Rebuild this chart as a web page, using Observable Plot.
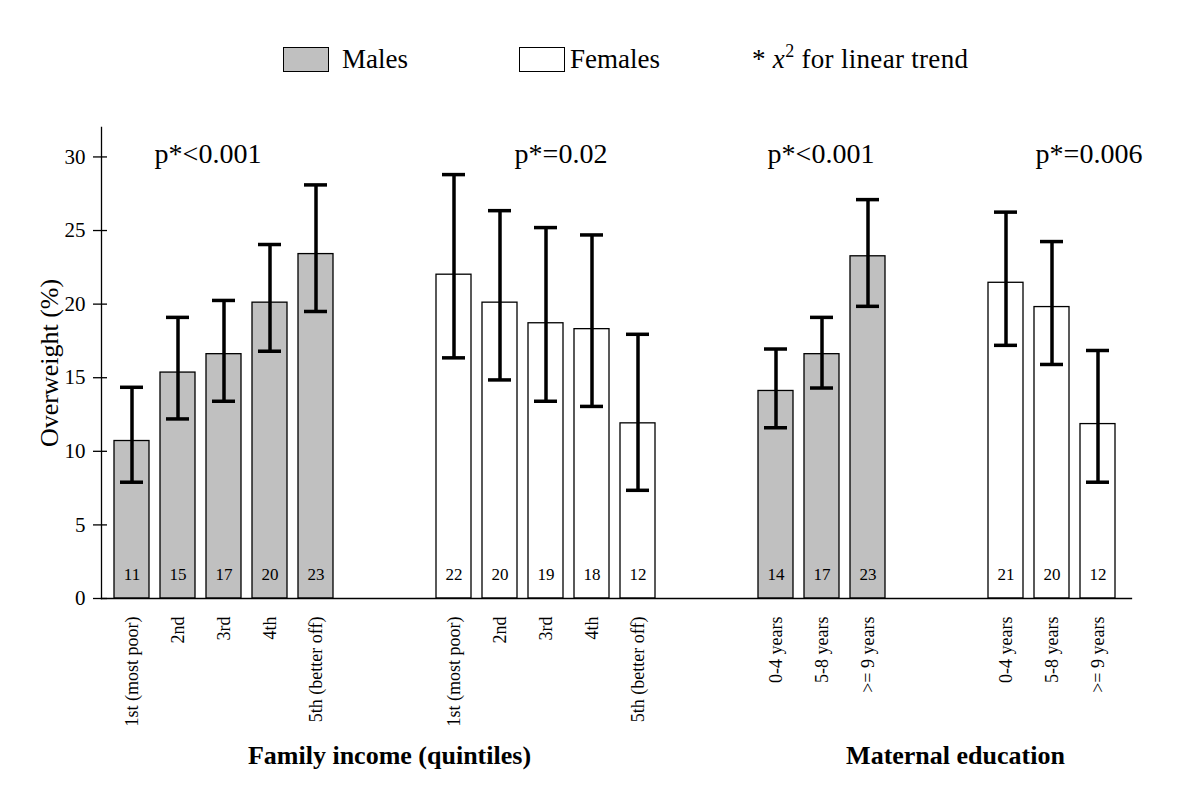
<!DOCTYPE html>
<html><head><meta charset="utf-8">
<script src="https://cdn.jsdelivr.net/npm/d3@7"></script>
<script src="https://cdn.jsdelivr.net/npm/@observablehq/plot@0.6"></script>
<style>
body{margin:0;background:#fff;font-family:"Liberation Serif","Times New Roman",serif;color:#000;}
#legend{position:relative;height:100px;width:1200px;}
.sw{position:absolute;top:47px;width:44px;height:23px;border:1.5px solid #000;}
.lt{position:absolute;top:42px;font-size:27px;line-height:34px;height:34px;white-space:nowrap;}
.lt sup{font-size:18px;position:relative;top:-11px;vertical-align:baseline;line-height:0;}
</style></head><body>
<div id="legend">
 <div class="sw" style="left:283px;background:#c0c0c0"></div>
 <div class="lt" style="left:342px">Males</div>
 <div class="sw" style="left:519px;background:#fff"></div>
 <div class="lt" style="left:570px">Females</div>
 <div class="lt" style="left:752px;letter-spacing:0.3px">* <i>x</i><sup>2</sup> for linear trend</div>
</div>
<div id="chart"></div>
<script>
// ---- data ----
const incomeLabels = ["1st (most poor)", "2nd", "3rd", "4th", "5th (better off)"];
const eduLabels = ["0-4 years", "5-8 years", ">= 9 years"];

const maleIncome   = [10.7, 15.35, 16.6, 20.1, 23.4];
const maleIncomeLo = [7.9, 12.2, 13.4, 16.8, 19.5];
const maleIncomeHi = [14.35, 19.1, 20.25, 24.05, 28.1];
const maleIncomeN  = [11, 15, 17, 20, 23];

const femaleIncome   = [22.0, 20.1, 18.7, 18.3, 11.9];
const femaleIncomeLo = [16.35, 14.85, 13.4, 13.05, 7.35];
const femaleIncomeHi = [28.8, 26.35, 25.2, 24.7, 17.95];
const femaleIncomeN  = [22, 20, 19, 18, 12];

const maleEdu   = [14.1, 16.6, 23.25];
const maleEduLo = [11.6, 14.3, 19.85];
const maleEduHi = [16.95, 19.1, 27.1];
const maleEduN  = [14, 17, 23];

const femaleEdu   = [21.45, 19.8, 11.85];
const femaleEduLo = [17.2, 15.9, 7.9];
const femaleEduHi = [26.25, 24.25, 16.85];
const femaleEduN  = [21, 20, 12];

const pLabels = ["p*<0.001", "p*=0.02", "p*<0.001", "p*=0.006"];
const yTicks = [0, 5, 10, 15, 20, 25, 30];

// ---- table ----
const rows = [];
const labelOf = {};
function addGroup(prefix, sex, labels, v, lo, hi, n) {
  labels.forEach((lab, i) => {
    const key = prefix + i;
    labelOf[key] = lab;
    rows.push({key, sex, value: v[i], lo: lo[i], hi: hi[i], n: n[i]});
  });
}
addGroup("MI", "M", incomeLabels, maleIncome, maleIncomeLo, maleIncomeHi, maleIncomeN);
addGroup("FI", "F", incomeLabels, femaleIncome, femaleIncomeLo, femaleIncomeHi, femaleIncomeN);
addGroup("ME", "M", eduLabels, maleEdu, maleEduLo, maleEduHi, maleEduN);
addGroup("FE", "F", eduLabels, femaleEdu, femaleEduLo, femaleEduHi, femaleEduN);

const domain = [
  "MI0","MI1","MI2","MI3","MI4","gA","gB",
  "FI0","FI1","FI2","FI3","FI4","gC","gD",
  "ME0","ME1","ME2","gE","gF",
  "FE0","FE1","FE2"
];

const pAnchor = ["MI2", "FI2", "ME1", "FE1"];
const pShift = [-16, 15, -1, 37];

const font = "Liberation Serif";
const pMarks = pLabels.map((t, i) =>
  Plot.text([t], {x: () => pAnchor[i], y: () => 30.2, text: d => d, fontSize: 28, fontFamily: font, lineAnchor: "middle", textAnchor: "middle", dx: pShift[i]})
);

const chart = Plot.plot({
  width: 1200,
  height: 700,
  marginTop: 27,
  marginBottom: 202,
  marginLeft: 101,
  marginRight: 69,
  style: {fontFamily: font, fontSize: "16px", color: "#000", background: "#fff", overflow: "visible"},
  x: {type: "band", domain, range: [105.5, 1124.3], paddingInner: 0.23, paddingOuter: 0},
  y: {domain: [0, 32]},
  marks: [
    Plot.barY(rows, {x: "key", y: "value", fill: d => d.sex === "M" ? "#c0c0c0" : "#ffffff", stroke: "#000", strokeWidth: 1.3}),
    Plot.ruleX(rows, {x: "key", y1: "lo", y2: "hi", stroke: "#000", strokeWidth: 3.5}),
    Plot.tickY(rows, {x: "key", y: "lo", stroke: "#000", strokeWidth: 3.5, insetLeft: 6, insetRight: 6}),
    Plot.tickY(rows, {x: "key", y: "hi", stroke: "#000", strokeWidth: 3.5, insetLeft: 6, insetRight: 6}),
    Plot.text(rows, {x: "key", y: () => 1.6, text: d => String(d.n), fontSize: 17, fontFamily: font, lineAnchor: "middle"}),
    ...pMarks,
    Plot.axisY({ticks: yTicks, tickSize: 0, tickPadding: 16, fontSize: 21, fontFamily: font, label: null}),
    Plot.axisY({ticks: yTicks, tickSize: 14, dx: 6, tickFormat: () => "", label: null, strokeWidth: 1.3}),
    Plot.axisX({tickSize: 0, tickPadding: 18, tickRotate: -90, fontSize: 18, fontFamily: font, tickFormat: k => labelOf[k] ?? "", label: null}),
    Plot.frame({anchor: "left", stroke: "#000", strokeWidth: 1.3}),
    Plot.frame({anchor: "bottom", stroke: "#000", strokeWidth: 1.3}),
    Plot.text(["Overweight (%)"], {frameAnchor: "left", rotate: -90, dx: -52, fontSize: 26, fontFamily: font, textAnchor: "middle", lineAnchor: "middle", text: d => d}),
    Plot.text(["Family income (quintiles)"], {frameAnchor: "bottom-left", dx: 288, dy: 157, fontSize: 26, fontFamily: font, fontWeight: "bold", textAnchor: "middle", lineAnchor: "middle", text: d => d}),
    Plot.text(["Maternal education"], {frameAnchor: "bottom-left", dx: 854, dy: 157, fontSize: 26, fontFamily: font, fontWeight: "bold", textAnchor: "middle", lineAnchor: "middle", text: d => d})
  ]
});
document.getElementById("chart").appendChild(chart);
</script>
</body></html>
